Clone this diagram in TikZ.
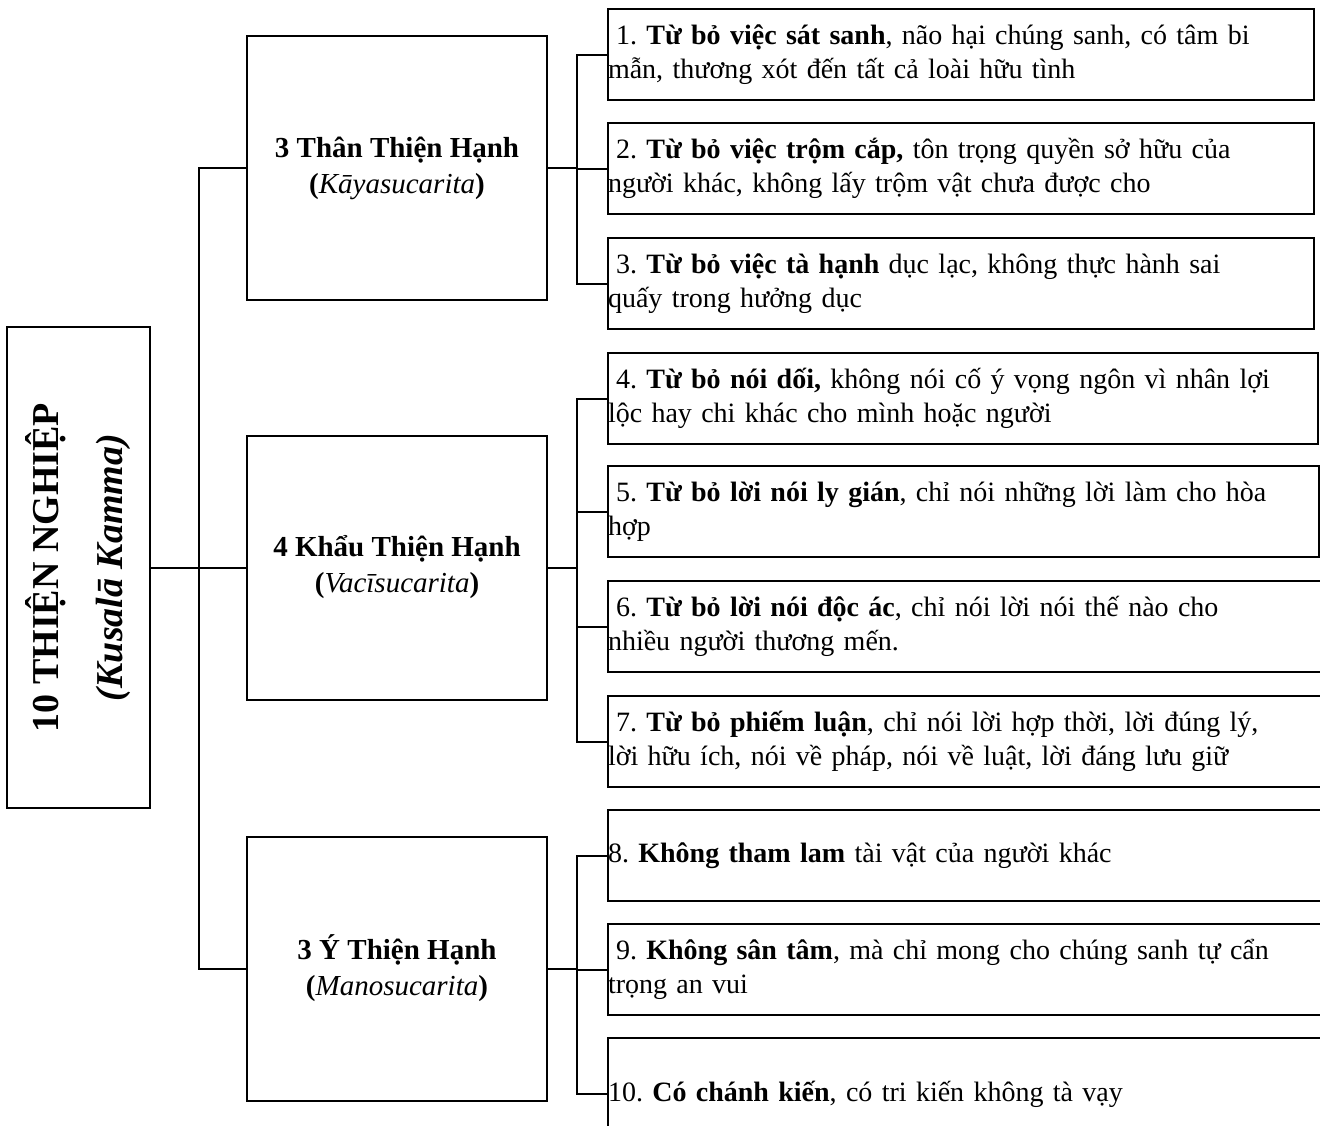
\documentclass[tikz,border=0pt]{standalone}
\usepackage{fontspec}
\setmainfont{Liberation Serif}
\usepackage{tikz}
\usetikzlibrary{positioning,calc}
\frenchspacing

\begin{document}
\begin{tikzpicture}[x=0.5pt, y=-0.5pt, line width=1pt,
		font=\fontsize{14}{17}\selectfont,
		leaf/.style={draw, anchor=north west, text width=353pt, minimum height=45.5pt,
			inner xsep=0pt, inner ysep=2pt, align=left},
		leafwide/.style={leaf, text width=370pt},
		group/.style={draw, minimum width=150pt, minimum height=132pt, align=center,
			font=\fontsize{14.5}{18}\selectfont}]
		\useasboundingbox (0,0) rectangle (1320,1125);
		\clip (0,0) rectangle (1320,1125);
		% root, turned on its side
		\node[draw, rotate=90, minimum width=240.5pt, minimum height=71.5pt, align=center,
			font=\fontsize{19}{32}\selectfont\bfseries] (root) at (78.5,567.5)
			{10 THIỆN NGHIỆP\\\textit{(Kusalā Kamma)}};
		% three groups
		\node[group] (g1) at (397,168)
			{\textbf{3 Thân Thiện Hạnh}\\\textbf{(}\textit{Kāyasucarita}\textbf{)}};
		\node[group] (g2) at (397,567.5)
			{\textbf{4 Khẩu Thiện Hạnh}\\\textbf{(}\textit{Vacīsucarita}\textbf{)}};
		\node[group] (g3) at (397,968.5)
			{\textbf{3 Ý Thiện Hạnh}\\\textbf{(}\textit{Manosucarita}\textbf{)}};
		% thân: 1-3
		\node[leaf] (l1) at (607,8)
			{\hspace{4pt}1. \textbf{Từ bỏ việc sát sanh}, não hại chúng sanh, có tâm bi\\mẫn, thương xót đến tất cả loài hữu tình};
		\node[leaf] (l2) at (607,122)
			{\hspace{4pt}2. \textbf{Từ bỏ việc trộm cắp,} tôn trọng quyền sở hữu của\\người khác, không lấy trộm vật chưa được cho};
		\node[leaf] (l3) at (607,237)
			{\hspace{4pt}3. \textbf{Từ bỏ việc tà hạnh} dục lạc, không thực hành sai\\quấy trong hưởng dục};
		% khẩu: 4-7
		\node[leaf, text width=355pt] (l4) at (607,352)
			{\hspace{4pt}4. \textbf{Từ bỏ nói dối,} không nói cố ý vọng ngôn vì nhân lợi\\lộc hay chi khác cho mình hoặc người};
		\node[leaf, text width=355.5pt] (l5) at (607,465)
			{\hspace{4pt}5. \textbf{Từ bỏ lời nói ly gián}, chỉ nói những lời làm cho hòa\\hợp};
		\node[leafwide] (l6) at (607,580)
			{\hspace{4pt}6. \textbf{Từ bỏ lời nói độc ác}, chỉ nói lời nói thế nào cho\\nhiều người thương mến.};
		\node[leafwide] (l7) at (607,695)
			{\hspace{4pt}7. \textbf{Từ bỏ phiếm luận}, chỉ nói lời hợp thời, lời đúng lý,\\lời hữu ích, nói về pháp, nói về luật, lời đáng lưu giữ};
		% ý: 8-10
		\node[leafwide] (l8) at (607,809)
			{8. \textbf{Không tham lam} tài vật của người khác};
		\node[leafwide] (l9) at (607,923)
			{\hspace{4pt}9. \textbf{Không sân tâm}, mà chỉ mong cho chúng sanh tự cẩn\\trọng an vui};
		\node[leafwide, minimum height=56pt] (l10) at (607,1037)
			{10. \textbf{Có chánh kiến}, có tri kiến không tà vạy};
		% trunk and spines
		\coordinate (tk) at (199,0);
		\coordinate (s1) at (577,0);
		\coordinate (s2) at (577,0);
		\coordinate (s3) at (577,0);
		\draw (root) -- (g2);
		\draw (g1.west) -- (g1.west -| tk) -- (g3.west -| tk) -- (g3.west);
		\draw (g1.east) -- (g1.east -| s1);
		\draw (l1.west) -- (l1.west -| s1) -- (l3.west -| s1) -- (l3.west);
		\draw (l2.west) -- (l2.west -| s1);
		\draw (g2.east) -- (g2.east -| s2);
		\draw (l4.west) -- (l4.west -| s2) -- (l7.west -| s2) -- (l7.west);
		\draw (l5.west) -- (l5.west -| s2);
		\draw (l6.west) -- (l6.west -| s2);
		\draw (g3.east) -- (g3.east -| s3);
		\draw (l8.west) -- (l8.west -| s3) -- (l10.west -| s3) -- (l10.west);
		\draw (l9.west) -- (l9.west -| s3);
	\end{tikzpicture}
\end{document}
